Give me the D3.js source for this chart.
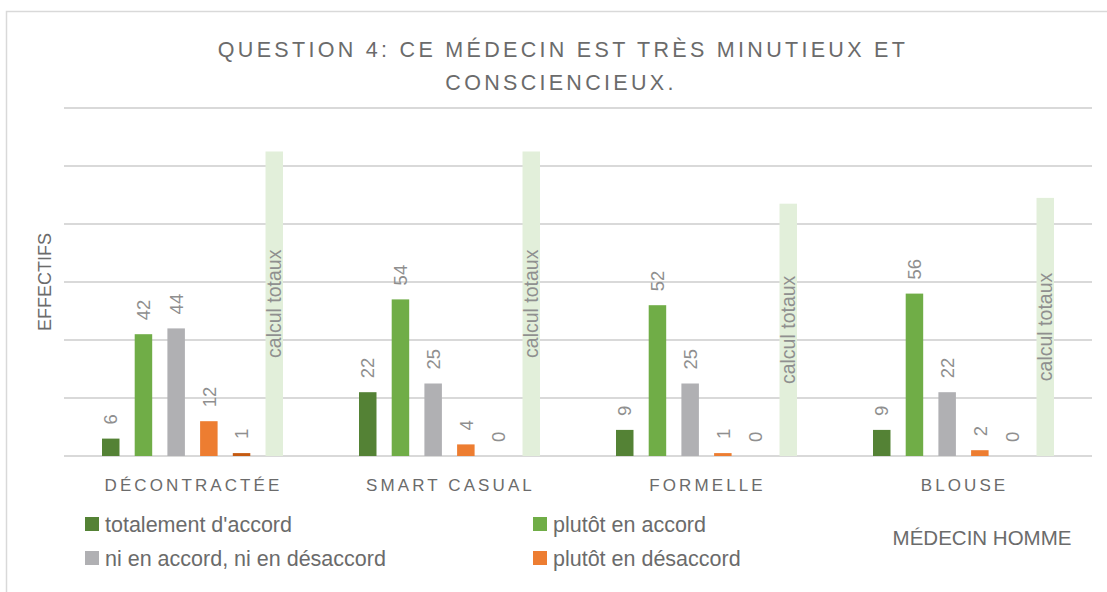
<!DOCTYPE html>
<html>
<head>
<meta charset="utf-8">
<script src="https://cdn.jsdelivr.net/npm/d3@7"></script>
<style>
  body { margin: 0; background: #fff; }
  svg text { font-family: "Liberation Sans", Arial, sans-serif; }
</style>
</head>
<body>
<div id="chart"></div>
<script>
// categories + series
const categories = ["DÉCONTRACTÉE", "SMART CASUAL", "FORMELLE", "BLOUSE"];
const seriesNames = ["totalement d'accord", "plutôt en accord", "ni en accord, ni en désaccord",
                     "plutôt en désaccord", "totalement en désaccord", "calcul totaux"];
const totAccord = [6, 22, 9, 9];
const plutotAccord = [42, 54, 52, 56];
const niNi = [44, 25, 25, 22];
const plutotDesaccord = [12, 4, 1, 2];
const totDesaccord = [1, 0, 0, 0];
const calculTotaux = [105, 105, 87, 89];
const yTicks = [0, 20, 40, 60, 80, 100, 120];

const colors = ["#548235", "#70ad47", "#b0b0b3", "#ed7d31", "#c55a11", "#e2efda"];
const seriesValues = [totAccord, plutotAccord, niNi, plutotDesaccord, totDesaccord, calculTotaux];

const W = 1107, H = 592;
const margin = {top: 108, right: 15, bottom: 136, left: 64},
    width = W - margin.left - margin.right,
    height = H - margin.top - margin.bottom;

const root = d3.select("#chart").append("svg")
    .attr("width", W).attr("height", H);

// chart frame
root.append("rect")
    .attr("x", 6.5).attr("y", 11.5)
    .attr("width", 1110).attr("height", 600)
    .attr("fill", "none").attr("stroke", "#d9d9d9").attr("stroke-width", 1.5);

// title
const title = root.append("text")
    .attr("text-anchor", "middle")
    .attr("fill", "#6b6b6b")
    .attr("font-size", 21.5)
    .attr("letter-spacing", 3.3);
title.append("tspan").attr("x", 563).attr("y", 57).text("QUESTION 4: CE MÉDECIN EST TRÈS MINUTIEUX ET");
title.append("tspan").attr("x", 561).attr("y", 90).text("CONSCIENCIEUX.");

const svg = root.append("g")
    .attr("transform", `translate(${margin.left}, ${margin.top})`);

const x0 = d3.scaleBand()
    .domain(categories)
    .range([0, width]);

const x1 = d3.scaleBand()
    .domain(d3.range(seriesNames.length))
    .range([x0.bandwidth() / 2 - 90.5, x0.bandwidth() / 2 + 90.5])
    .paddingInner(0.465)
    .paddingOuter(0);

const y = d3.scaleLinear()
    .domain([0, 120])
    .range([height, 0]);

// gridlines
svg.append("g")
    .selectAll("line")
    .data(yTicks)
    .join("line")
    .attr("x1", 0).attr("x2", width)
    .attr("y1", d => y(d)).attr("y2", d => y(d))
    .attr("stroke", "#d9d9d9").attr("stroke-width", 1.8);

// flat data table
const rows = [];
categories.forEach((c, ci) => {
  seriesValues.forEach((vals, si) => rows.push({cat: c, s: si, v: vals[ci]}));
});

svg.append("g")
    .selectAll("rect")
    .data(rows)
    .join("rect")
    .attr("x", d => x0(d.cat) + x1(d.s))
    .attr("y", d => y(d.v))
    .attr("width", x1.bandwidth())
    .attr("height", d => height - y(d.v))
    .attr("fill", d => colors[d.s]);

// value labels (rotated)
svg.append("g")
    .selectAll("text")
    .data(rows.filter(d => d.s < 5))
    .join("text")
    .attr("transform", d => `translate(${x0(d.cat) + x1(d.s) + x1.bandwidth() / 2}, ${y(d.v) - 14}) rotate(-90)`)
    .attr("dy", "0.36em")
    .attr("font-size", 18.5)
    .attr("fill", "#8f8f8f")
    .text(d => d.v);

// "calcul totaux" label centered in light bar
svg.append("g")
    .selectAll("text")
    .data(rows.filter(d => d.s === 5))
    .join("text")
    .attr("transform", d => `translate(${x0(d.cat) + x1(d.s) + x1.bandwidth() / 2}, ${(y(d.v) + height) / 2}) rotate(-90)`)
    .attr("text-anchor", "middle")
    .attr("dy", "0.36em")
    .attr("font-size", 19.5)
    .attr("fill", "#8f8f8f")
    .text(seriesNames[5]);

// category axis labels
svg.append("g")
    .selectAll("text")
    .data(categories)
    .join("text")
    .attr("x", d => x0(d) + x0.bandwidth() / 2 + 1)
    .attr("y", height + 35)
    .attr("text-anchor", "middle")
    .attr("font-size", 17)
    .attr("letter-spacing", 3.1)
    .attr("fill", "#6b6b6b")
    .text(d => d);

// y axis title
root.append("text")
    .attr("transform", `translate(45, ${margin.top + height / 2}) rotate(-90)`)
    .attr("text-anchor", "middle")
    .attr("dy", "0.36em")
    .attr("font-size", 18)
    .attr("fill", "#6b6b6b")
    .text("EFFECTIFS");

// legend (first four series only, like the reference)
const legendPos = [[85, 524], [533, 524], [85, 558], [533, 558]];
const legendIdx = [0, 1, 2, 3];
const legend = root.append("g")
    .selectAll("g")
    .data(legendIdx)
    .join("g")
    .attr("transform", (d, i) => `translate(${legendPos[i][0]}, ${legendPos[i][1]})`);
legend.append("rect")
    .attr("x", 0).attr("y", -7)
    .attr("width", 14).attr("height", 14)
    .attr("fill", d => colors[d]);
legend.append("text")
    .attr("x", 20).attr("dy", "0.36em")
    .attr("font-size", 21.5)
    .attr("fill", "#6b6b6b")
    .text(d => seriesNames[d]);

root.append("text")
    .attr("x", 982).attr("y", 538)
    .attr("text-anchor", "middle")
    .attr("dy", "0.36em")
    .attr("font-size", 20.5)
    .attr("fill", "#6b6b6b")
    .text("MÉDECIN HOMME");
</script>
</body>
</html>
